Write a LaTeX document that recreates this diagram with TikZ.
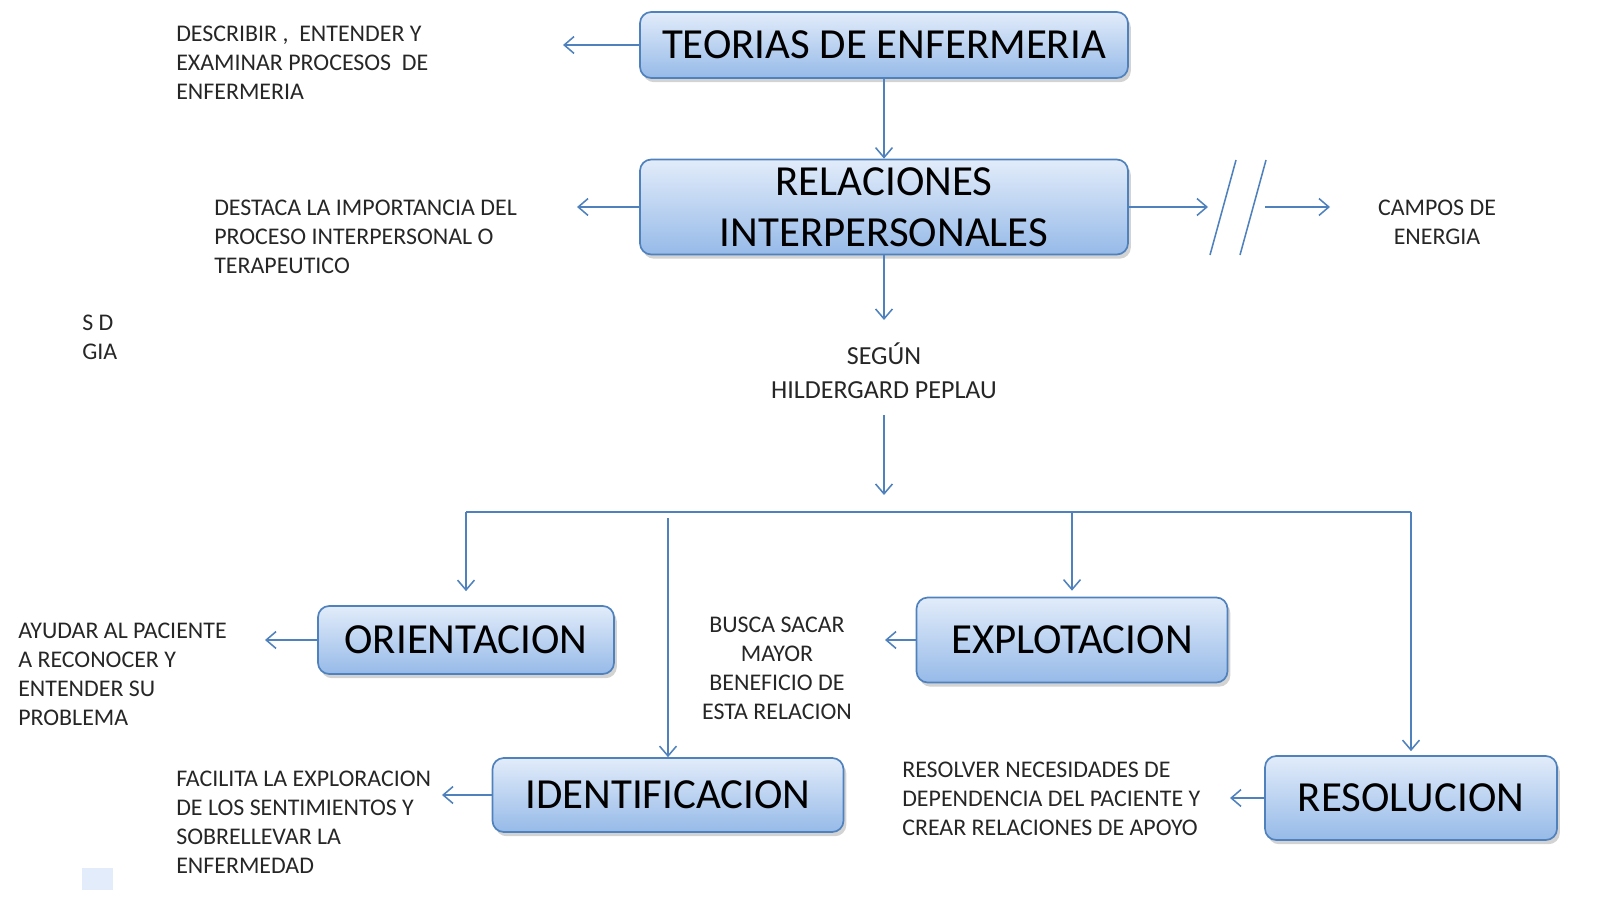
\documentclass[tikz,border=0pt]{standalone}
\usepackage{fontspec}
\setmainfont{Carlito}
\usetikzlibrary{positioning, arrows.meta, shadows}
\definecolor{linea}{RGB}{79,129,189}
\definecolor{cajaarriba}{RGB}{226,236,250}
\definecolor{cajaabajo}{RGB}{150,186,232}
\tikzset{
  caja/.style={draw=linea, line width=1.2pt, rounded corners=8pt, top color=cajaarriba, bottom color=cajaabajo,
    drop shadow={shadow xshift=2pt, shadow yshift=-3pt, opacity=0.35}, font=\fontsize{30.5}{36}\selectfont, align=center},
  texto/.style={inner sep=0pt, font=\fontsize{17}{20.6}\selectfont, text=black!85},
  flecha/.style={draw=linea, line width=1.1pt, -{Straight Barb[length=7pt, width=12pt]}},
  linea/.style={draw=linea, line width=1.1pt}
}
\begin{document}
\begin{tikzpicture}[x=0.025cm, y=-0.025cm]
\useasboundingbox (0,0) rectangle (1600,907);
                % Cajas
                \node[caja, minimum width=488*0.025cm, minimum height=66*0.025cm] (Teorias) at (884,45) {TEORIAS DE ENFERMERIA};
                \node[caja, minimum width=488*0.025cm, minimum height=95*0.025cm] (Relaciones) at (884,207) {RELACIONES\\INTERPERSONALES};
                \node[caja, minimum width=296*0.025cm, minimum height=68*0.025cm] (Orientacion) at (466,640) {ORIENTACION};
                \node[caja, minimum width=311*0.025cm, minimum height=85*0.025cm] (Explotacion) at (1072,640) {EXPLOTACION};
                \node[caja, minimum width=351*0.025cm, minimum height=74*0.025cm] (Identificacion) at (668,795) {IDENTIFICACION};
                \node[caja, minimum width=292*0.025cm, minimum height=84*0.025cm] (Resolucion) at (1411,798) {RESOLUCION};

                % Textos
                \node[texto, anchor=west, align=left] (Describir) at (176,63) {DESCRIBIR ,\ \ ENTENDER Y\\EXAMINAR PROCESOS\ \ DE\\ENFERMERIA};
                \node[texto, anchor=west, align=left] (Destaca) at (214,237) {DESTACA LA IMPORTANCIA DEL\\PROCESO INTERPERSONAL O\\TERAPEUTICO};
                \node[texto, align=center] (Campos) at (1437,222) {CAMPOS DE\\ENERGIA};
                \node[texto, align=center, font=\fontsize{18.5}{24}\selectfont] (Segun) at (884,371) {SEGÚN\\HILDERGARD PEPLAU};
                \node[texto, anchor=west, align=left] (Ayudar) at (18,674) {AYUDAR AL PACIENTE\\A RECONOCER Y\\ENTENDER SU\\PROBLEMA};
                \node[texto, align=center] (Busca) at (777,668) {BUSCA SACAR\\MAYOR\\BENEFICIO DE\\ESTA RELACION};
                \node[texto, anchor=west, align=left] (Facilita) at (176,822) {FACILITA LA EXPLORACION\\DE LOS SENTIMIENTOS Y\\SOBRELLEVAR LA\\ENFERMEDAD};
                \node[texto, anchor=west, align=left] (Resolver) at (902,799) {RESOLVER NECESIDADES DE\\DEPENDENCIA DEL PACIENTE Y\\CREAR RELACIONES DE APOYO};
                \node[texto, anchor=west, align=left] (Recorte) at (82,337) {S D\\GIA};
                \node[fill=cajaarriba, inner sep=0pt, minimum width=31*0.025cm, minimum height=22*0.025cm, anchor=north west] (Cuadro) at (82,868) {};

                % Puntos sueltos
                \coordinate (PDescribir) at (563,45);
                \coordinate (PDestaca) at (577,207);
                \coordinate (PCorte1) at (1208,207);
                \coordinate (PCorte2) at (1265,207);
                \coordinate (PCampos) at (1330,207);
                \coordinate (PSegunArriba) at (884,320);
                \coordinate (PSegunAbajo1) at (884,415);
                \coordinate (PSegunAbajo2) at (884,495);
                \coordinate (BarraIzq) at (466,512);
                \coordinate (BarraDer) at (1411,512);
                \coordinate (PIdent) at (668,518);

                % Conectores
                \draw[flecha] (Teorias.west) -- (PDescribir);
                \draw[flecha] (Teorias.south) -- (Relaciones.north);
                \draw[flecha] (Relaciones.west) -- (PDestaca);
                \draw[flecha] (Relaciones.east) -- (PCorte1);
                \draw[flecha] (PCorte2) -- (PCampos);
                \draw[linea] (1210,255) -- (1236,160);
                \draw[linea] (1240,255) -- (1266,160);
                \draw[flecha] (Relaciones.south) -- (PSegunArriba);
                \draw[flecha] (PSegunAbajo1) -- (PSegunAbajo2);
                \draw[linea] (BarraIzq) -- (BarraDer);
                \draw[flecha] (BarraIzq) -- ([yshift=0.35cm]Orientacion.north);
                \draw[flecha] (1072,512) -- ([yshift=0.15cm]Explotacion.north);
                \draw[flecha] (BarraDer) -- ([yshift=0.1cm]Resolucion.north);
                \draw[flecha] (PIdent) -- (Identificacion.north);
                \draw[flecha] (Orientacion.west) -- (265,640);
                \draw[flecha] (Explotacion.west) -- (885,640);
                \draw[flecha] (Identificacion.west) -- (442,795);
                \draw[flecha] (Resolucion.west) -- (1230,798);
\end{tikzpicture}
\end{document}
